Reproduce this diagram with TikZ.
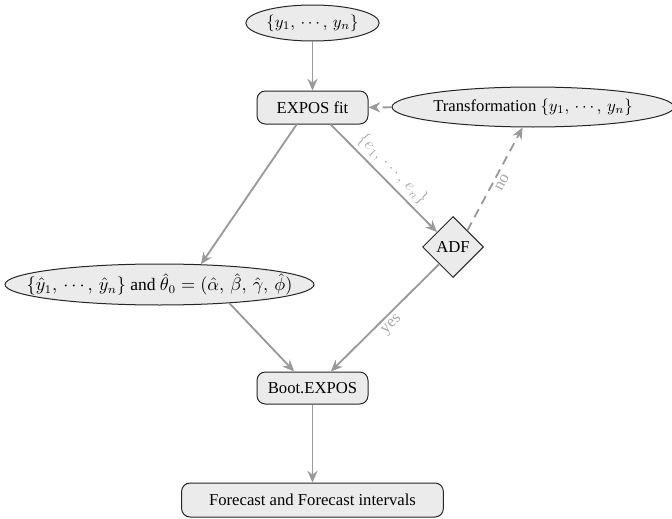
\documentclass[tikz,border=0pt]{standalone}
\usepackage{fontspec}
\setmainfont{Liberation Serif}
\usetikzlibrary{shapes.geometric,arrows.meta}
\definecolor{boxfill}{HTML}{EBEBEB}
\definecolor{linkgray}{HTML}{999999}
\definecolor{labelgray}{HTML}{A8A8A8}
\definecolor{edgeline}{HTML}{262626}
\begin{document}
\begin{tikzpicture}[x=0.6pt,y=-0.6pt,
  base/.style={draw=edgeline, fill=boxfill, line width=0.6pt, inner sep=0pt,
    font=\fontsize{10}{12}\selectfont},
  stage/.style={base, rectangle, rounded corners=5pt},
  dataset/.style={base, ellipse},
  test/.style={base, diamond, aspect=1},
  link/.style={draw=linkgray, line width=1.1pt, -{Stealth[length=7pt,width=6pt]}},
  weak/.style={link, dash pattern=on 5.4pt off 3.6pt},
  tag/.style={text=labelgray, font=\fontsize{10}{12}\selectfont, sloped, inner sep=2pt}
]
\useasboundingbox (0,0) rectangle (672,519);

% nodes
\node[dataset, minimum width=80pt, minimum height=21.6pt] (series) at (312.5,23) {$\{y_1,\,\cdots,\,y_n\}$};
\node[stage, minimum width=66.6pt, minimum height=19.8pt] (fit) at (312.5,107.5) {EXPOS fit};
\node[dataset, minimum width=167.4pt, minimum height=24pt] (trans) at (533,107) {Transformation $\{y_1,\,\cdots,\,y_n\}$};
\node[dataset, inner xsep=-17pt, minimum width=185.4pt, minimum height=24.6pt,
  font=\fontsize{10.5}{12.5}\selectfont] (est) at (159.5,284.5)
  {$\{\hat{y}_1,\,\cdots,\,\hat{y}_n\}$ and $\hat{\theta}_0=(\hat{\alpha},\,\hat{\beta},\,\hat{\gamma},\,\hat{\phi})$};
\node[test, minimum width=36.6pt, minimum height=36.6pt] (adf) at (453,247) {ADF};
\node[stage, minimum width=66.6pt, minimum height=19.2pt] (boot) at (312.5,388) {Boot.EXPOS};
\node[stage, minimum width=157pt, minimum height=20.4pt] (fc) at (312.5,500) {Forecast and Forecast intervals};

% connectors
\draw[link] (series) -- (fit);
\draw[weak] (trans) -- (fit);
\draw[link] (fit.227) -- (est.26);
\draw[link] (fit.317) -- node[tag, above] {$\{e_1,\,\cdots,\,e_n\}$} (adf.137);
\draw[weak] (adf.49) -- node[tag, below] {no} (trans.243);
\draw[link] (adf.231) -- node[tag, below] {yes} (boot.42);
\draw[link] (est.345) -- (boot.138);
\draw[link] (boot) -- (fc);
\end{tikzpicture}
\end{document}
